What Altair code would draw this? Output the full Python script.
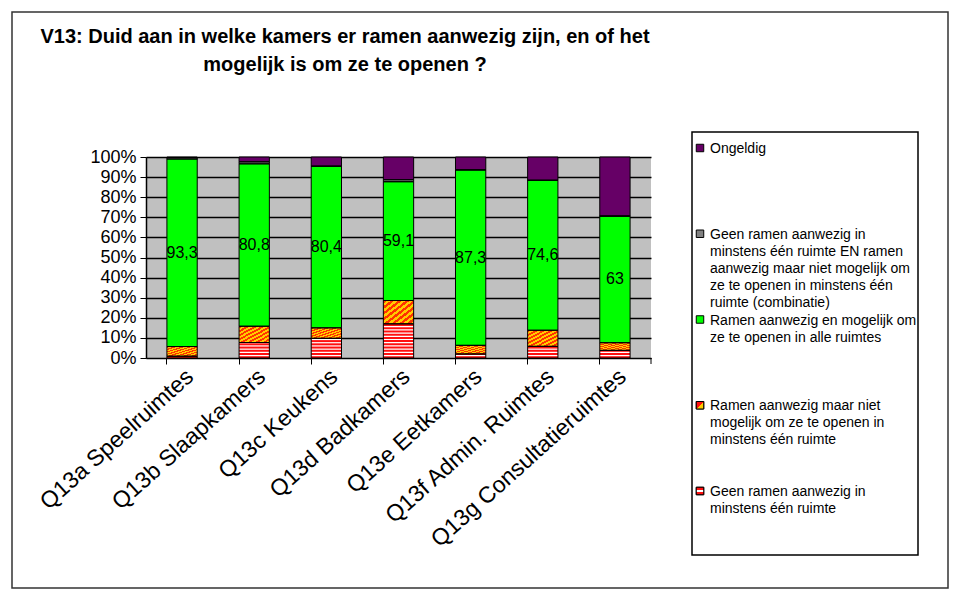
import altair as alt
import pandas as pd

# ---------------- data ----------------
categories = [
    "Q13a Speelruimtes",
    "Q13b Slaapkamers",
    "Q13c Keukens",
    "Q13d Badkamers",
    "Q13e Eetkamers",
    "Q13f Admin. Ruimtes",
    "Q13g Consultatieruimtes",
]
# stacking order bottom -> top
series_names = ["Geen ramen", "Niet te openen", "Te openen", "Combinatie", "Ongeldig"]
geen_ramen = [0.9, 7.7, 9.8, 17.0, 2.0, 5.8, 3.8]
niet_te_openen = [4.8, 8.1, 5.2, 11.6, 4.3, 8.0, 3.8]
te_openen = [93.3, 80.8, 80.4, 59.1, 87.3, 74.6, 63.0]
combinatie = [0.7, 1.0, 0.0, 1.0, 0.0, 0.0, 0.0]
ongeldig = [0.3, 2.4, 4.6, 11.3, 6.4, 11.6, 29.4]
series_values = [geen_ramen, niet_te_openen, te_openen, combinatie, ongeldig]

legend_order = ["Ongeldig", "Combinatie", "Te openen", "Niet te openen", "Geen ramen"]
legend_texts = [
    "Ongeldig",
    " Geen ramen aanwezig in\nminstens één ruimte EN ramen\naanwezig maar niet mogelijk om\nze te openen in minstens één\nruimte (combinatie)",
    "Ramen aanwezig en mogelijk om\nze te openen in alle ruimtes",
    "Ramen aanwezig maar niet\nmogelijk om ze te openen in\nminstens één ruimte",
    "Geen ramen aanwezig in\nminstens één ruimte",
]
title_text = "V13: Duid aan in welke kamers er ramen aanwezig zijn, en of het\nmogelijk is om ze te openen ?"

rows = []
for si, (name, vals) in enumerate(zip(series_names, series_values)):
    for cat, v in zip(categories, vals):
        rows.append({"cat": cat, "series": name, "order": si, "value": v,
                     "label": f"{v:g}".replace(".", ",")})
df = pd.DataFrame(rows)
leg_df = pd.DataFrame({"series": legend_order, "text": legend_texts})
one = pd.DataFrame({"k": [0]})

# ---------------- styles ----------------
FONT = "Liberation Sans"
RED, ORANGE, YELLOW, GREEN, GRAY, PURPLE = "#FF1010", "#FF3300", "#FFCC00", "#00FF00", "#808080", "#660066"
fill_scale = alt.Scale(domain=series_names, range=[RED, ORANGE, GREEN, GRAY, PURPLE])

def stripes(c1, c2, n):
    st = []
    for i in range(n):
        a, b, c = i / n, (i + 0.5) / n, (i + 1) / n
        st += [{"offset": a, "color": c1}, {"offset": b, "color": c1},
               {"offset": b, "color": c2}, {"offset": c, "color": c2}]
    return st

diag_grad = {"gradient": "linear", "x1": 0, "y1": 0, "x2": 1, "y2": 1,
             "stops": stripes(ORANGE, YELLOW, 8)}
diag_grad_small = {"gradient": "linear", "x1": 0, "y1": 0, "x2": 1, "y2": 1,
                   "stops": [{"offset": 0, "color": RED}, {"offset": 0.5, "color": RED},
                             {"offset": 0.5, "color": YELLOW}, {"offset": 1, "color": YELLOW}]}
hstripe_small = {"gradient": "linear", "x1": 0, "y1": 0, "x2": 0, "y2": 1,
                 "stops": [{"offset": 0, "color": RED}, {"offset": 0.4, "color": RED},
                           {"offset": 0.4, "color": "white"}, {"offset": 0.6, "color": "white"},
                           {"offset": 0.6, "color": RED}, {"offset": 1, "color": RED}]}

W, H = 505, 201
PX, PY = 146, 157  # plot origin on the page

x_axis = alt.Axis(title=None, labelAngle=-42, labelAlign="right", labelBaseline="middle",
                  bandPosition=0, labelOffset=8, tickSize=6, tickColor="black",
                  domainColor="black", labelFont=FONT, labelFontSize=23, labelColor="black",
                  labelPadding=9, grid=False, labelLimit=500, labelOverlap=False)
y_axis = alt.Axis(title=None, values=list(range(0, 101, 10)), labelExpr="datum.value + '%'",
                  grid=True, gridColor="black", gridWidth=1.5, domainColor="black",
                  domainWidth=1.5, tickColor="black", tickSize=6, labelFont=FONT,
                  labelFontSize=18, labelColor="black", labelPadding=4, labelOverlap=False,
                  labelBound=False, labelFlush=False)

x_enc = alt.X("cat:N", sort=categories,
              scale=alt.Scale(domain=categories, paddingInner=0.58, paddingOuter=0.29), axis=x_axis)
y_scale = alt.Scale(domain=[0, 100], nice=False)

def Y(field):
    return alt.Y(field, scale=y_scale, axis=y_axis)

base = alt.Chart(df).transform_stack(
    stack="value", groupby=["cat"], sort=[alt.SortField("order", order="ascending")],
    as_=["y0", "y1"])

solid = base.transform_filter(
    alt.FieldOneOfPredicate(field="series", oneOf=["Geen ramen", "Te openen", "Combinatie", "Ongeldig"])
).mark_bar(strokeWidth=0).encode(
    x=x_enc, y=Y("y0:Q"), y2="y1:Q",
    fill=alt.Fill("series:N", scale=fill_scale, legend=None))

hatched = base.transform_filter(alt.datum.series == "Niet te openen").mark_bar(
    fill=diag_grad, strokeWidth=0).encode(x=x_enc, y=Y("y0:Q"), y2="y1:Q")

white_lines = base.transform_filter(alt.datum.series == "Geen ramen").transform_calculate(
    s="sequence(datum.y0 + 0.9, datum.y1 - 0.2, 1.6)").transform_flatten(["s"]).transform_calculate(
    s2="min(datum.s + 0.6, datum.y1)").mark_bar(color="white", strokeWidth=0).encode(
    x=x_enc, y=Y("s:Q"), y2="s2:Q")

outline = base.mark_bar(fillOpacity=0, stroke="black", strokeWidth=1).encode(
    x=x_enc, y=Y("y0:Q"), y2="y1:Q")

labels = base.transform_filter(alt.datum.series == "Te openen").transform_calculate(
    mid="(datum.y0 + datum.y1) / 2").mark_text(
    font=FONT, fontSize=16, color="black", baseline="middle").encode(
    x=x_enc, y=Y("mid:Q"), text="label:N")

end_tick = alt.Chart(one).mark_rule(color="black").encode(
    x=alt.value(W), y=alt.value(H), y2=alt.value(H + 6))

main = alt.layer(solid, hatched, white_lines, outline, labels, end_tick)

# ---------------- legend ----------------
ly = alt.Y("series:N", scale=alt.Scale(type="point", domain=legend_order,
                                        range=[148 - PY, 491 - PY], padding=0), axis=None)
leg_box = alt.Chart(one).mark_rect(fillOpacity=0, stroke="black", strokeWidth=1.5).encode(
    x=alt.value(692 - PX), x2=alt.value(918 - PX), y=alt.value(132 - PY), y2=alt.value(555 - PY))
SYMX = 700 - PX
leg_sym = alt.Chart(leg_df).mark_square(size=56, opacity=1, stroke="black", strokeWidth=1).encode(
    x=alt.value(SYMX), y=ly, fill=alt.Fill("series:N", scale=fill_scale, legend=None))
leg_sym_hatch = alt.Chart(leg_df).transform_filter(alt.datum.series == "Niet te openen").mark_square(
    size=56, opacity=1, stroke="black", strokeWidth=1, fill=diag_grad_small).encode(
    x=alt.value(SYMX), y=ly)
leg_sym_stripe = alt.Chart(leg_df).transform_filter(alt.datum.series == "Geen ramen").mark_square(
    size=56, opacity=1, stroke="black", strokeWidth=1, fill=hstripe_small).encode(
    x=alt.value(SYMX), y=ly)
leg_text = alt.Chart(leg_df).mark_text(
    align="left", baseline="alphabetic", dy=5, lineBreak="\n", lineHeight=17,
    font=FONT, fontSize=14, color="black").encode(
    x=alt.value(710 - PX), y=ly, text="text:N")
legend = alt.layer(leg_box, leg_sym, leg_sym_hatch, leg_sym_stripe, leg_text)

# ---------------- decorations ----------------
title = alt.Chart(one).mark_text(
    align="center", baseline="alphabetic", lineBreak="\n", lineHeight=28,
    font=FONT, fontSize=20, fontWeight="bold", color="black").encode(
    x=alt.value(345 - PX), y=alt.value(43 - PY), text=alt.value(title_text))
outer = alt.Chart(one).mark_rect(fillOpacity=0, stroke="#333333", strokeWidth=1.5).encode(
    x=alt.value(12 - PX), x2=alt.value(948 - PX), y=alt.value(12 - PY), y2=alt.value(588 - PY))

chart = alt.layer(main, legend, title, outer).resolve_scale(
    y="independent").properties(
    width=W, height=H, background="white",
    padding={"left": PX - 8, "top": PY - 8, "right": 944 - (PX - 8) - W, "bottom": 584 - (PY - 8) - H},
    autosize=alt.AutoSizeParams(type="none"),
).configure_view(fill="#C0C0C0", stroke=None)

chart.save("out.html", embed_options={"renderer": "svg", "actions": False})
